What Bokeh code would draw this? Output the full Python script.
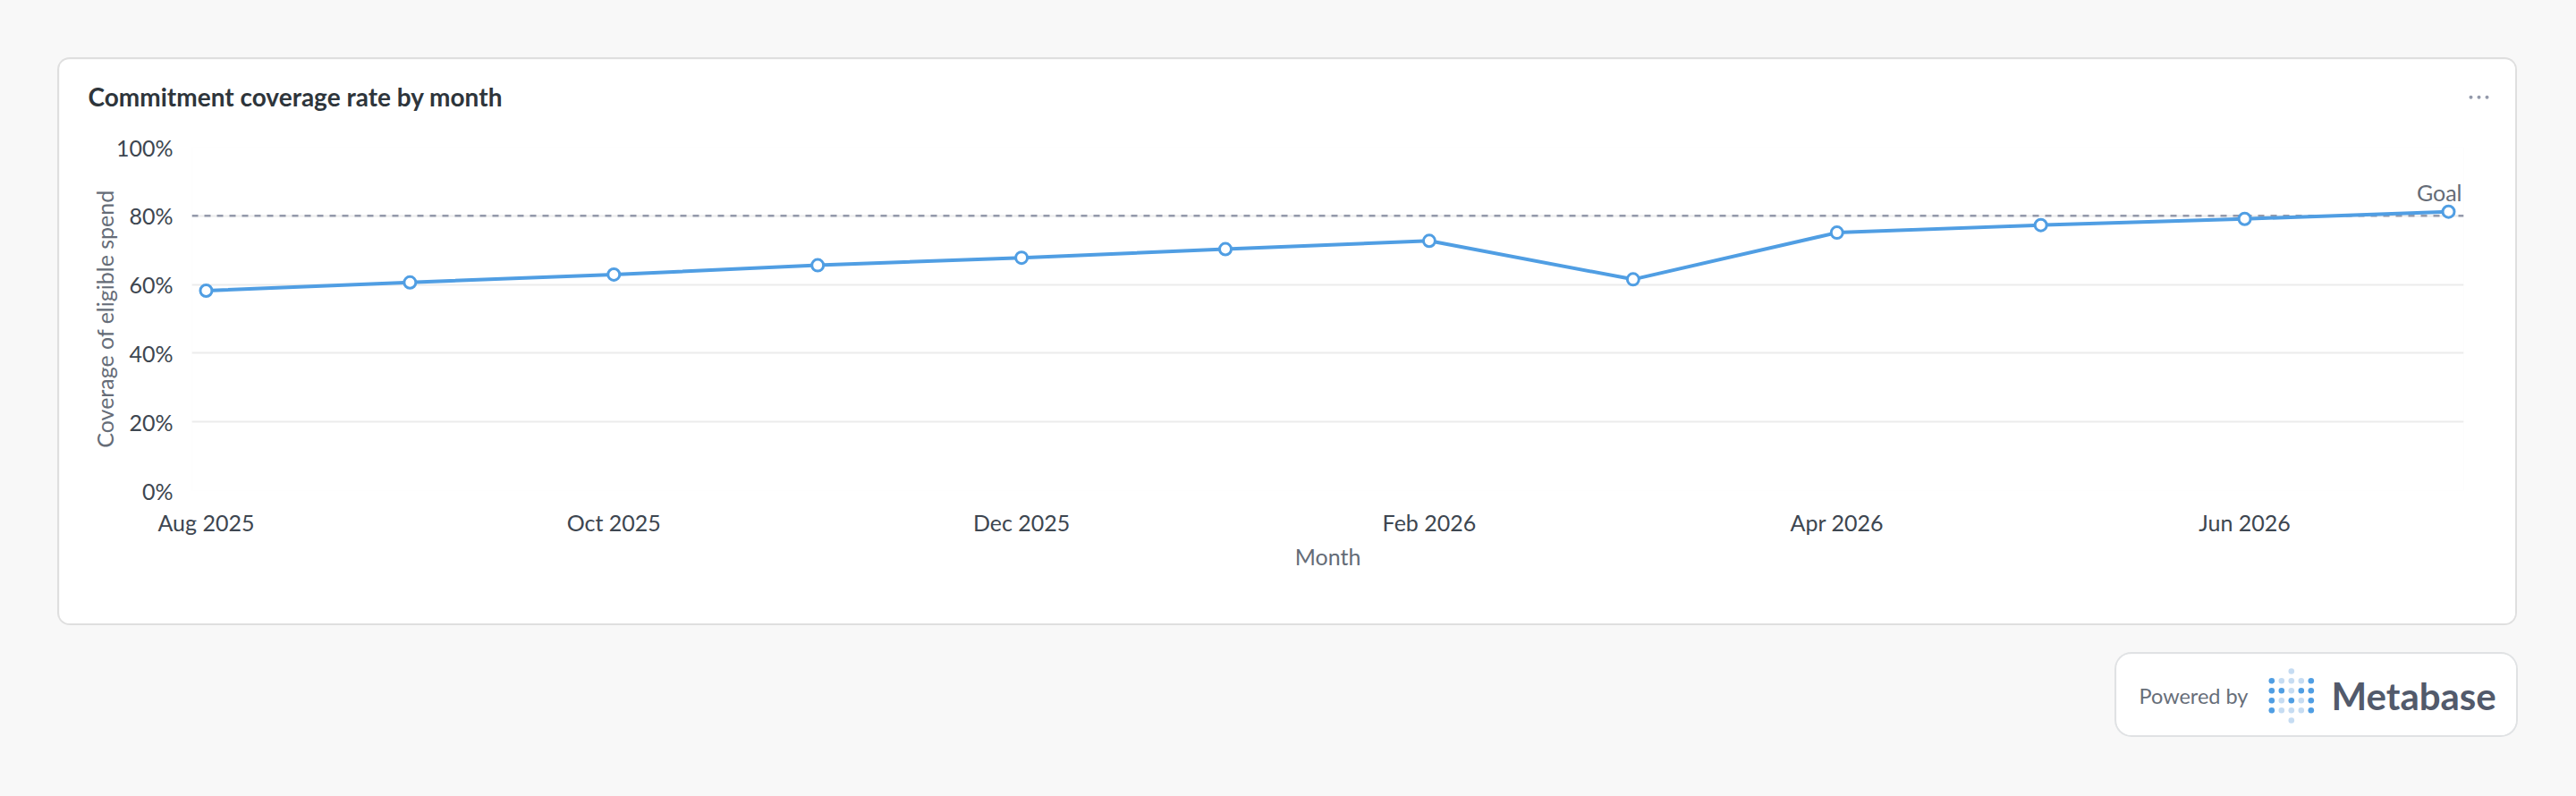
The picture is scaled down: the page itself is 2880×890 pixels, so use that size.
from bokeh.plotting import figure
from bokeh.models import (Range1d, FixedTicker, PrintfTickFormatter, Span, Label,
                          GlobalInlineStyleSheet)
from bokeh.embed import file_html
from bokeh.resources import INLINE
from bokeh.core.properties import value

# ---------------- data ----------------
MONTHS = ["Aug 2025", "Sep 2025", "Oct 2025", "Nov 2025", "Dec 2025", "Jan 2026",
          "Feb 2026", "Mar 2026", "Apr 2026", "May 2026", "Jun 2026", "Jul 2026"]
COVERAGE = [58.2, 60.6, 62.9, 65.6, 67.8, 70.3, 72.7, 61.5, 75.1, 77.3, 79.1, 81.2]
GOAL = 80
GOAL_LABEL = "Goal"
Y_TICKS = [0, 20, 40, 60, 80, 100]
X_LABEL_STEP = 2
TITLE = "Commitment coverage rate by month"
Y_TITLE = "Coverage of eligible spend"
X_TITLE = "Month"

# ---------------- style ----------------
FONT = "Lato"
BLUE = "#509ee3"
LIGHT_BLUE = "#c6dcf2"
DARK = "#2e353b"
TICK_COLOR = "#3d4650"
GRAY = "#656c77"
GOAL_COLOR = "#949aab"
GRID = "#ececec"
PAGE_BG = "#f8f8f8"
CARD_EDGE = "#dfdfdf"

x_idx = list(range(len(MONTHS)))
x_start, x_end = -0.070, len(MONTHS) - 1 + 0.0746

W, H = 2746, 631
ML, MR, MT, MB = 148, 58, 98, 149
CARD_X, CARD_Y = 66, 66

card = figure(width=W, height=H, output_backend="svg", toolbar_location=None,
              x_range=Range1d(x_start, x_end), y_range=Range1d(0, 100),
              min_border_left=ML, min_border_right=MR, min_border_top=MT,
              min_border_bottom=MB, background_fill_color="white",
              border_fill_color="white", outline_line_color=None,
              stylesheets=[GlobalInlineStyleSheet(css="body{background:%s;}" % PAGE_BG)])
card.styles = {"box-shadow": "0 0 0 2px %s" % CARD_EDGE,
               "border-radius": "12px", "overflow": "hidden"}
card.margin = (CARD_Y, 0, 0, CARD_X)

# axes
yax = card.yaxis[0]
yax.ticker = FixedTicker(ticks=Y_TICKS)
yax.formatter = PrintfTickFormatter(format="%d%%")
yax.axis_label = Y_TITLE
yax.axis_label_text_font = FONT
yax.axis_label_text_font_style = "normal"
yax.axis_label_text_font_size = "25px"
yax.axis_label_text_color = GRAY
yax.major_label_text_font = FONT
yax.major_label_text_font_size = "25px"
yax.major_label_text_color = TICK_COLOR
yax.axis_line_color = None
yax.major_tick_line_color = None
yax.minor_tick_line_color = None
yax.major_tick_out = 0
yax.major_tick_in = 0
yax.major_label_standoff = 21
yax.axis_label_standoff = -5

xax = card.xaxis[0]
xax.ticker = FixedTicker(ticks=x_idx[::X_LABEL_STEP])
xax.major_label_overrides = {i: MONTHS[i] for i in x_idx[::X_LABEL_STEP]}
xax.axis_label = X_TITLE
xax.axis_label_text_font = FONT
xax.axis_label_text_font_style = "normal"
xax.axis_label_text_font_size = "25px"
xax.axis_label_text_color = GRAY
xax.major_label_text_font = FONT
xax.major_label_text_font_size = "25px"
xax.major_label_text_color = TICK_COLOR
xax.axis_line_color = None
xax.major_tick_line_color = None
xax.minor_tick_line_color = None
xax.major_tick_out = 0
xax.major_tick_in = 0
xax.major_label_standoff = 20
xax.axis_label_standoff = 5

card.xgrid.visible = False
card.ygrid.grid_line_color = GRID
card.ygrid.grid_line_width = 2

goal = Span(location=GOAL, dimension="width", line_color=GOAL_COLOR,
            line_width=2.5, line_dash="7 7", level="underlay")
card.add_layout(goal)

card.line(x_idx, COVERAGE, line_color=BLUE, line_width=4)
card.scatter(x_idx, COVERAGE, size=13, fill_color="white", line_color=BLUE,
             line_width=3)

card.add_layout(Label(x=x_end, y=GOAL, text=GOAL_LABEL, text_align="right",
                      text_baseline="middle", x_offset=-2, y_offset=26,
                      text_font=FONT, text_font_size="25px", text_color=GRAY))

# ---------------- card header: title + "more" icon ----------------
HX, HY, HW, HH = 90, 86, 2700, 44
header = figure(width=HW, height=HH, output_backend="svg", toolbar_location=None,
                x_range=Range1d(0, HW), y_range=Range1d(HH, 0), min_border=0,
                x_axis_location=None, y_axis_location=None,
                background_fill_color="white", border_fill_color="white",
                outline_line_color=None)
header.grid.visible = False
header.text(x=[8], y=[21.5], text=[TITLE], text_font=value(FONT),
            text_font_style="bold", text_font_size="28px", text_color=DARK,
            text_baseline="middle")
header.scatter([2672, 2681, 2690], [22.3, 22.3, 22.3], size=4,
               fill_color=GOAL_COLOR, line_color=None)
header.margin = (HY - (CARD_Y + H), 0, 0, HX)

# ---------------- "Powered by Metabase" badge ----------------
BW, BH = 447, 91
BADGE_X, BADGE_Y = 2366, 731
badge = figure(width=BW, height=BH, output_backend="svg", toolbar_location=None,
               x_range=Range1d(0, BW), y_range=Range1d(BH, 0), min_border=0,
               x_axis_location=None, y_axis_location=None,
               background_fill_color="white", border_fill_color="white",
               outline_line_color=None)
badge.grid.visible = False
badge.styles = {"box-shadow": "0 0 0 2px #e0e2e4",
                "border-radius": "17px", "overflow": "hidden"}
badge.margin = (BADGE_Y - (HY + HH), 0, 0, BADGE_X)

badge.text(x=[25], y=[46], text=["Powered by"], text_font=value(FONT),
           text_font_size="23.5px", text_color="#676e79", text_baseline="middle")

LOGO_ROWS = ["DLLLD", "DDLDD", "DLDLD", "DLLLD"]
lx, ly, lc = [], [], []
for r, row in enumerate(LOGO_ROWS):
    for c, ch in enumerate(row):
        lx.append(173.3 + 11 * c)
        ly.append(29.7 + 11 * r)
        lc.append(BLUE if ch == "D" else LIGHT_BLUE)
lx += [195.3, 195.3]
ly += [19, 74]
lc += [LIGHT_BLUE, LIGHT_BLUE]
badge.scatter(lx, ly, size=6.6, fill_color=lc, line_color=None)

badge.text(x=[240], y=[46], text=["Metabase"], text_font=value(FONT),
           text_font_style="bold", text_font_size="42px", text_color="#525a6b",
           text_baseline="middle")

open("out.html", "w").write(file_html([card, header, badge], INLINE,
                                      title="Commitment coverage"))
